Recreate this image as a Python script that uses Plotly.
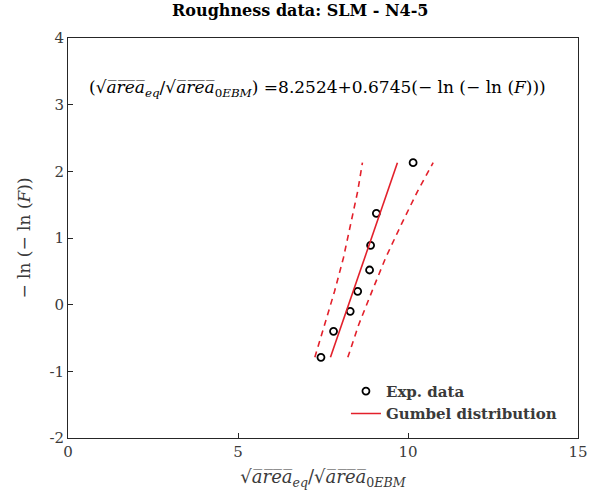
import plotly.graph_objects as go

# Experimental data
exp_x = [7.44, 7.81, 8.30, 8.52, 8.87, 8.90, 9.07, 10.15]
exp_y = [-0.79, -0.40, -0.10, 0.20, 0.52, 0.89, 1.37, 2.13]

# Gumbel fit parameters
mu = 8.2524
sigma = 0.6745

# Confidence bounds
bound_y = [-0.79, -0.30, 0.20, 0.70, 1.20, 1.70, 2.13]
lower_x = [7.26, 7.55, 7.84, 8.10, 8.32, 8.52, 8.66]
upper_x = [8.23, 8.55, 8.94, 9.34, 9.80, 10.28, 10.74]

x_ticks = [0, 5, 10, 15]
y_ticks = [-2, -1, 0, 1, 2, 3, 4]
y_tick_text = ["-2", "-1", "0", "1", "2", "3", "4"]

red = "#E3202B"
serif = "DejaVu Serif, Liberation Serif, serif"
grey = "#3a3a3a"

fit_y = [min(exp_y), max(exp_y)]
fit_x = [mu + sigma * v for v in fit_y]

fig = go.Figure()
fig.add_trace(go.Scatter(x=exp_x, y=exp_y, mode="markers", name="<b>Exp. data</b>",
                         marker=dict(symbol="circle-open", size=7, color="black",
                                     line=dict(width=1.8, color="black"))))
fig.add_trace(go.Scatter(x=fit_x, y=fit_y, mode="lines", name="<b>Gumbel distribution</b>",
                         line=dict(color=red, width=1.6)))
fig.add_trace(go.Scatter(x=lower_x, y=bound_y, mode="lines", showlegend=False,
                         line=dict(color=red, width=1.6, dash="6px,5px")))
fig.add_trace(go.Scatter(x=upper_x, y=bound_y, mode="lines", showlegend=False,
                         line=dict(color=red, width=1.6, dash="6px,5px")))

xtitle = "√<i>a̅r̅e̅a̅</i><sub><i>eq</i></sub>/√<i>a̅r̅e̅a̅</i><sub>0<i>EBM</i></sub>"

axis_common = dict(showline=True, linecolor="#262626", linewidth=1, mirror=True,
                   ticks="inside", ticklen=5, tickcolor="#262626", showgrid=False,
                   zeroline=False, automargin=False,
                   tickfont=dict(family=serif, size=15, color=grey))

fig.update_layout(
    width=597, height=501,
    margin=dict(l=68, r=19, t=38, b=63),
    paper_bgcolor="white", plot_bgcolor="white",
    title=dict(text="<b>Roughness data: SLM - N4-5</b>", x=0.503, xanchor="center",
               y=0.99, yanchor="top", font=dict(family=serif, size=16, color="black")),
    xaxis=dict(range=[0, 15], tickvals=x_ticks, **axis_common,
               title=dict(text=xtitle, font=dict(family=serif, size=18, color=grey),
                          standoff=10)),
    yaxis=dict(range=[-2, 4], tickvals=y_ticks, ticktext=y_tick_text, **axis_common,
               title=dict(text="− ln (− ln (<i>F</i>))", font=dict(family=serif, size=17, color=grey),
                          standoff=14)),
    legend=dict(x=0.545, y=0.158, xanchor="left", yanchor="top", bgcolor="rgba(255,255,255,0)",
                font=dict(family=serif, size=15, color=grey), tracegroupgap=0),
    showlegend=True,
    annotations=[dict(x=0.49, y=0.907, xref="paper", yref="paper", showarrow=False,
                      text="(√<i>a̅r̅e̅a̅</i><sub><i>eq</i></sub>/√<i>a̅r̅e̅a̅</i><sub>0<i>EBM</i></sub>) =8.2524+0.6745(− ln (− ln (<i>F</i>)))",
                      font=dict(family=serif, size=17, color="black"))],
)

fig.write_html("out.html", config={"displayModeBar": False},
               post_script="document.body.style.margin='0';")
